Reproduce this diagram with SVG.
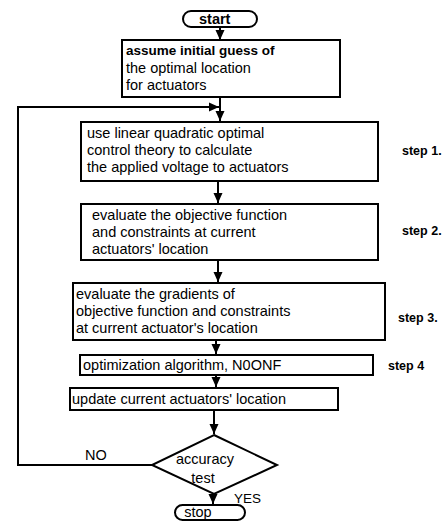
<svg xmlns="http://www.w3.org/2000/svg" width="444" height="529" viewBox="0 0 444 529">
<defs>
<style>
.box{fill:#fff;stroke:#000;stroke-width:2}
.t{font-family:"Liberation Sans",Arial,sans-serif;font-size:14.5px;fill:#000}
.b{font-weight:bold}
.c{fill:none;stroke:#000;stroke-width:2}
</style>
<marker id="ah" markerUnits="userSpaceOnUse" markerWidth="10" markerHeight="10" viewBox="0 0 10 10" refX="10" refY="5" orient="auto">
<path d="M0,0.5 L10,5 L0,9.5 Z" fill="#000"/>
</marker>
</defs>
<rect width="444" height="529" fill="#fff"/>
<g id="connectors">
<line class="c" x1="220" y1="27" x2="220" y2="40" marker-end="url(#ah)"/>
<line class="c" x1="220" y1="97" x2="220" y2="121" marker-end="url(#ah)"/>
<polyline class="c" points="152,465 18,465 18,107 219,107" marker-end="url(#ah)"/>
<line class="c" x1="218" y1="181" x2="218" y2="203" marker-end="url(#ah)"/>
<line class="c" x1="218" y1="260" x2="218" y2="282" marker-end="url(#ah)"/>
<line class="c" x1="216" y1="340" x2="216" y2="354" marker-end="url(#ah)"/>
<line class="c" x1="216" y1="375" x2="216" y2="387" marker-end="url(#ah)"/>
<line class="c" x1="214" y1="410" x2="214" y2="434" marker-end="url(#ah)"/>
<line class="c" x1="213" y1="494" x2="213" y2="504" marker-end="url(#ah)"/>
</g>
<g id="start">
<rect class="box" x="183" y="11" width="74" height="16" rx="8"/>
<text class="t b" x="199" y="24" font-size="14">start</text>
</g>
<g id="init">
<rect class="box" x="122" y="40" width="218" height="57"/>
<text class="t b" x="126" y="55" style="font-size:13.5px">assume initial guess of</text>
<text class="t" x="126" y="73">the optimal location</text>
<text class="t" x="126" y="90">for actuators</text>
</g>
<g id="step1">
<rect class="box" x="81" y="122" width="297" height="59"/>
<text class="t" x="87" y="138">use linear quadratic optimal</text>
<text class="t" x="87" y="155">control theory to calculate</text>
<text class="t" x="87" y="172">the applied voltage to actuators</text>
<text class="t b" x="402" y="155" style="font-size:12.5px">step 1.</text>
</g>
<g id="step2">
<rect class="box" x="81" y="204" width="297" height="56"/>
<text class="t" x="92" y="220">evaluate the objective function</text>
<text class="t" x="92" y="237">and constraints at current</text>
<text class="t" x="92" y="254">actuators' location</text>
<text class="t b" x="402" y="235" style="font-size:12.5px">step 2.</text>
</g>
<g id="step3">
<rect class="box" x="73" y="283" width="312" height="57"/>
<text class="t" x="76" y="299">evaluate the gradients of</text>
<text class="t" x="76" y="316">objective function and constraints</text>
<text class="t" x="76" y="333">at current actuator's location</text>
<text class="t b" x="398" y="322" style="font-size:12.5px">step 3.</text>
</g>
<g id="step4">
<rect class="box" x="80" y="355" width="293" height="20"/>
<text class="t" x="83" y="370">optimization algorithm, N0ONF</text>
<text class="t b" x="388" y="370" style="font-size:12.5px">step 4</text>
</g>
<g id="update">
<rect class="box" x="70" y="388" width="268" height="22"/>
<text class="t" x="72" y="404">update current actuators' location</text>
</g>
<g id="test">
<polygon class="box" points="214,435 277,465 214,494 152,465"/>
<text class="t" x="205" y="464" text-anchor="middle">accuracy</text>
<text class="t" x="203" y="483" text-anchor="middle">test</text>
<text class="t" x="85" y="460">NO</text>
<text class="t" x="234" y="503" style="font-size:13.5px">YES</text>
</g>
<g id="stop">
<rect class="box" x="175" y="505" width="70" height="15" rx="7.5"/>
<text class="t" x="198" y="517" text-anchor="middle" font-size="14">stop</text>
</g>
</svg>
